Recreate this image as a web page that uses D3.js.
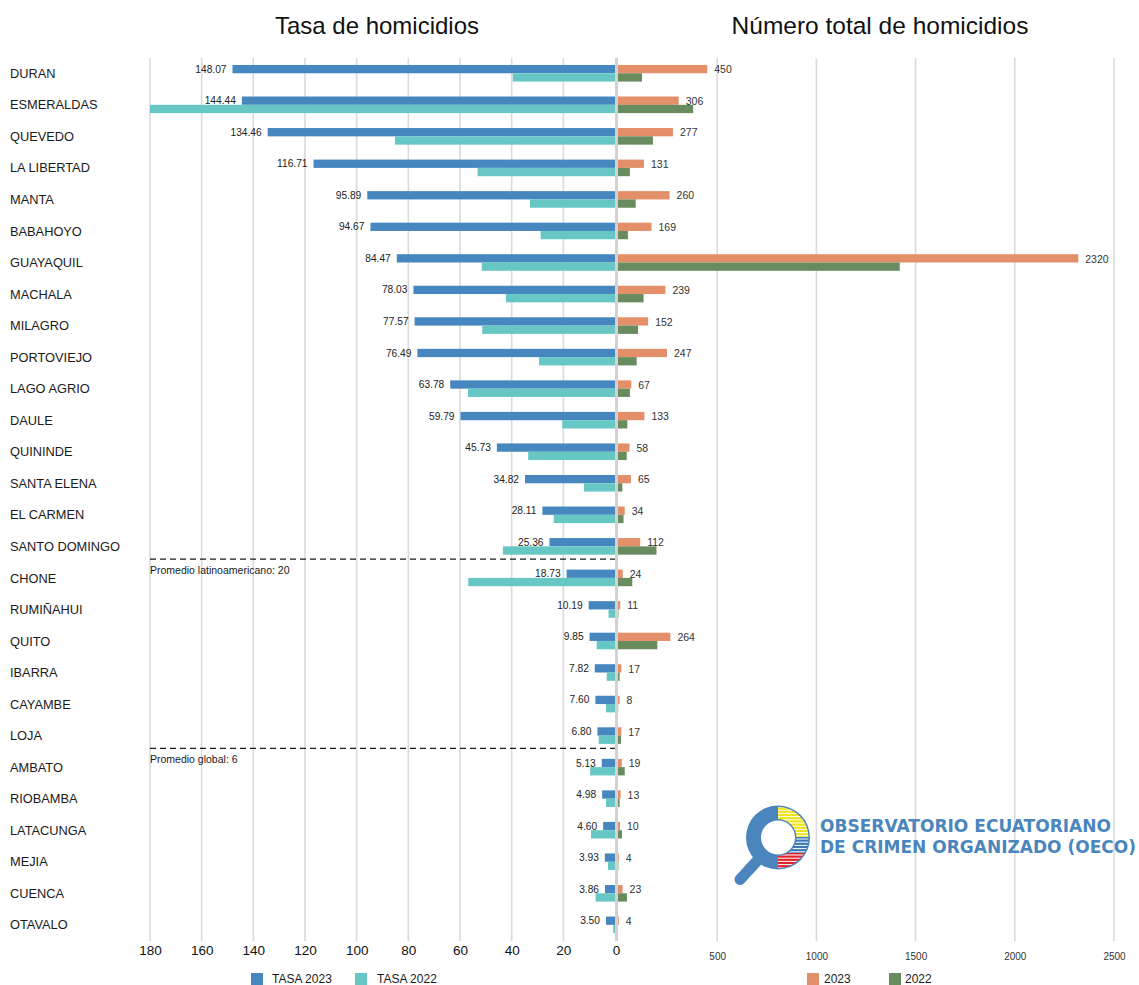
<!DOCTYPE html>
<html><head><meta charset="utf-8">
<script src="https://cdn.jsdelivr.net/npm/d3@7"></script>
<style>body{margin:0;background:#fff} svg{display:block}</style>
</head><body><svg id="c" width="1139" height="985"></svg>
<script>
const categories = ["DURAN","ESMERALDAS","QUEVEDO","LA LIBERTAD","MANTA","BABAHOYO","GUAYAQUIL","MACHALA","MILAGRO","PORTOVIEJO","LAGO AGRIO","DAULE","QUININDE","SANTA ELENA","EL CARMEN","SANTO DOMINGO","CHONE","RUMIÑAHUI","QUITO","IBARRA","CAYAMBE","LOJA","AMBATO","RIOBAMBA","LATACUNGA","MEJIA","CUENCA","OTAVALO"];
const tasa2023 = [148.07,144.44,134.46,116.71,95.89,94.67,84.47,78.03,77.57,76.49,63.78,59.79,45.73,34.82,28.11,25.36,18.73,10.19,9.85,7.82,7.60,6.80,5.13,4.98,4.60,3.93,3.86,3.50];
const tasa2022 = [39.6,180,85.2,53.2,32.9,28.8,51.6,42.2,51.4,29.4,56.9,20.4,33.6,12.0,23.7,43.4,56.8,2.5,7.1,3.2,3.5,6.3,9.6,3.5,9.3,2.7,7.5,0.7];
const total2023 = [450,306,277,131,260,169,2320,239,152,247,67,133,58,65,34,112,24,11,264,17,8,17,19,13,10,4,23,4];
const total2022 = [121,379,176,60,89,50,1420,129,101,94,60,47,44,22,28,194,72,2,198,8,1,15,34,8,20,2,45,0];
const tasaTicks = [180,160,140,120,100,80,60,40,20,0];
const totalTicks = [500,1000,1500,2000,2500];
const refLines = [
  {after:"SANTO DOMINGO", label:"Promedio latinoamericano: 20"},
  {after:"LOJA", label:"Promedio global: 6"}
];
const titles = ["Tasa de homicidios","Número total de homicidios"];
const legendLeft = [["TASA 2023","#4787bf"],["TASA 2022","#66c7c5"]];
const legendRight = [["2023","#e3906a"],["2022","#688c5e"]];
const logoLines = ["OBSERVATORIO ECUATORIANO","DE CRIMEN ORGANIZADO (OECO)"];

const C = {b23:"#4787bf", b22:"#66c7c5", o23:"#e3906a", g22:"#688c5e"};
const FONT = "'Liberation Sans', Arial, sans-serif";
const svg = d3.select("#c").style("font-family", FONT);

const xL = d3.scaleLinear().domain([0,180]).range([615,150]);
const xR = d3.scaleLinear().domain([0,2500]).range([618,1114]);
const y = d3.scaleBand().domain(categories).range([57.5, 940.6]);
const bh = 8.3;
const yc = c => y(c) + y.bandwidth()/2;

// titles
svg.append("text").attr("x",377).attr("y",34).attr("text-anchor","middle")
  .style("font-size","24px").attr("fill","#111").text(titles[0]);
svg.append("text").attr("x",880).attr("y",34).attr("text-anchor","middle")
  .style("font-size","24.5px").attr("fill","#111").text(titles[1]);

// gridlines
const grid = svg.append("g");
grid.selectAll("line.gl").data(tasaTicks.filter(d=>d>0)).join("line")
  .attr("x1",d=>xL(d)).attr("x2",d=>xL(d)).attr("y1",58).attr("y2",941)
  .attr("stroke","#dadada").attr("stroke-width",1.6);
grid.selectAll("line.gr").data(totalTicks).join("line")
  .attr("x1",d=>xR(d)).attr("x2",d=>xR(d)).attr("y1",58).attr("y2",941)
  .attr("stroke","#dadada").attr("stroke-width",1.6);
grid.append("line").attr("x1",616.5).attr("x2",616.5).attr("y1",58).attr("y2",941)
  .attr("stroke","#d2d2d2").attr("stroke-width",3);

// axes
const axL = svg.append("g").attr("transform","translate(0,941)")
  .call(d3.axisBottom(xL).tickValues(tasaTicks).tickSize(0).tickPadding(4).tickFormat(d3.format("d")));
axL.select(".domain").remove();
axL.selectAll("text").style("font-size","13.5px").attr("fill","#111").style("font-family",FONT);
axL.selectAll(".tick").filter(d=>d===0).attr("transform","translate(616.5,0)");

const axR = svg.append("g").attr("transform","translate(0,948.5)")
  .call(d3.axisBottom(xR).tickValues(totalTicks).tickSize(0).tickPadding(4).tickFormat(d3.format("d")));
axR.select(".domain").remove();
axR.selectAll("text").style("font-size","10px").attr("fill","#333").style("font-family",FONT);

// category labels
svg.append("g").selectAll("text").data(categories).join("text")
  .attr("x",10).attr("y",d=>yc(d)).attr("dy","0.36em")
  .style("font-size","12.8px").attr("fill","#1a1a1a").text(d=>d);

// bars
const rows = categories.map((c,i)=>({c, t23:tasa2023[i], t22:tasa2022[i], n23:total2023[i], n22:total2022[i]}));
const bars = svg.append("g");
bars.selectAll("rect.b23").data(rows).join("rect")
  .attr("x",d=>xL(d.t23)).attr("width",d=>xL(0)-xL(d.t23))
  .attr("y",d=>yc(d.c)-bh).attr("height",bh).attr("fill",C.b23);
bars.selectAll("rect.b22").data(rows).join("rect")
  .attr("x",d=>xL(d.t22)).attr("width",d=>xL(0)-xL(d.t22))
  .attr("y",d=>yc(d.c)).attr("height",bh).attr("fill",C.b22);
bars.selectAll("rect.o23").data(rows).join("rect")
  .attr("x",xR(0)).attr("width",d=>xR(d.n23)-xR(0))
  .attr("y",d=>yc(d.c)-bh).attr("height",bh).attr("fill",C.o23);
bars.selectAll("rect.g22").data(rows).join("rect")
  .attr("x",xR(0)).attr("width",d=>xR(d.n22)-xR(0))
  .attr("y",d=>yc(d.c)).attr("height",bh).attr("fill",C.g22);

// value labels
svg.append("g").selectAll("text").data(rows).join("text")
  .attr("x",d=>xL(d.t23)-6).attr("y",d=>yc(d.c)-bh/2).attr("dy","0.35em")
  .attr("text-anchor","end").style("font-size","10.2px").attr("fill","#222")
  .text(d=>d3.format(".2f")(d.t23));
svg.append("g").selectAll("text").data(rows).join("text")
  .attr("x",d=>xR(d.n23)+7).attr("y",d=>yc(d.c)-bh/2+0.5).attr("dy","0.35em")
  .style("font-size","10.5px").attr("fill","#333").text(d=>d.n23);

// reference lines
refLines.forEach(r=>{
  const yy = y(r.after) + y.bandwidth() - 3;
  svg.append("line").attr("x1",150).attr("x2",615).attr("y1",yy).attr("y2",yy)
    .attr("stroke","#1a1a1a").attr("stroke-width",1.3).attr("stroke-dasharray","6,4");
  svg.append("text").attr("x",150).attr("y",yy+11).attr("dy","0.35em")
    .style("font-size","10.5px").attr("fill","#1a1a1a").text(r.label);
});

// legends
function legend(items, xs, txs){
  items.forEach((it,i)=>{
    svg.append("rect").attr("x",xs[i]).attr("y",973).attr("width",12).attr("height",12).attr("fill",it[1]);
    svg.append("text").attr("x",txs[i]).attr("y",979).attr("dy","0.36em")
      .style("font-size","12px").attr("fill","#1a1a1a").text(it[0]);
  });
}
legend(legendLeft,[251,355],[272,377]);
legend(legendRight,[807,889],[824,905]);

// logo
const lg = svg.append("g").attr("transform","translate(778,837.5)");
lg.append("line").attr("x1",-16).attr("y1",18).attr("x2",-38).attr("y2",42)
  .attr("stroke","#4a86bd").attr("stroke-width",11).attr("stroke-linecap","round");
lg.append("path").attr("d", d3.arc()({innerRadius:17, outerRadius:32, startAngle:0, endAngle:2*Math.PI}))
  .attr("fill","#4a86bd");
const defs = svg.append("defs");
defs.append("clipPath").attr("id","flagclip").append("path")
  .attr("transform","translate(778,837.5)")
  .attr("d", d3.arc()({innerRadius:18.5, outerRadius:30.5, startAngle:0, endAngle:Math.PI}));
const fg = svg.append("g").attr("clip-path","url(#flagclip)");
fg.append("rect").attr("x",778).attr("y",805).attr("width",34).attr("height",32).attr("fill","#f2e21c");
fg.append("rect").attr("x",778).attr("y",837).attr("width",34).attr("height",16).attr("fill","#3a78b8");
fg.append("rect").attr("x",778).attr("y",853).attr("width",34).attr("height",18).attr("fill","#e0242c");
for(let yy=807; yy<870; yy+=3.2){
  fg.append("line").attr("x1",778).attr("x2",812).attr("y1",yy).attr("y2",yy)
    .attr("stroke","#fff").attr("stroke-width",1);
}
svg.append("text").attr("x",820).attr("y",832).style("font-size","17px").style("font-weight","bold")
  .style("font-family","'DejaVu Sans', Verdana, sans-serif")
  .attr("textLength",291).attr("lengthAdjust","spacingAndGlyphs")
  .attr("fill","#4a86bd").text(logoLines[0]);
svg.append("text").attr("x",820).attr("y",853).style("font-size","17px").style("font-weight","bold")
  .style("font-family","'DejaVu Sans', Verdana, sans-serif")
  .attr("textLength",316).attr("lengthAdjust","spacingAndGlyphs")
  .attr("fill","#4a86bd").text(logoLines[1]);
</script></body></html>
